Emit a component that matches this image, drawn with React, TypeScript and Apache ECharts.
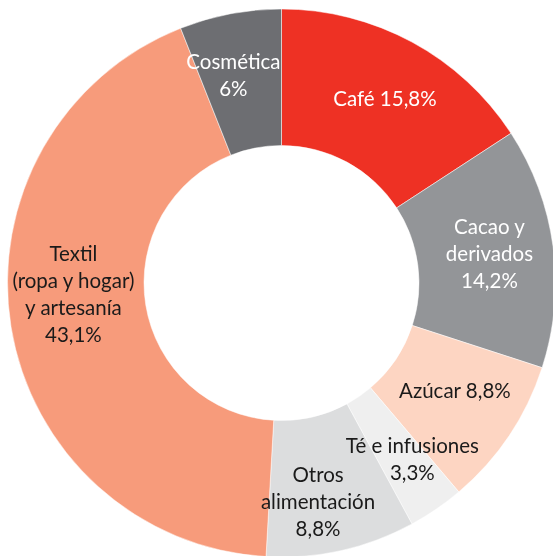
import React, { useEffect, useRef } from "react";
import * as echarts from "echarts";

const categories = [
  "Café",
  "Cacao y\nderivados",
  "Azúcar",
  "Té e infusiones",
  "Otros\nalimentación",
  "Textil\n(ropa y hogar)\ny artesanía",
  "Cosmética",
];
const values = [15.8, 14.2, 8.8, 3.3, 8.8, 43.1, 6];
const joiners = [" ", "\n", " ", "\n", "\n", "\n", "\n"];
const colors = ["#EE3124", "#939598", "#FDD5C2", "#EFEFEF", "#DCDDDE", "#F79B7B", "#6D6E72"];
const textColors = ["#FFFFFF", "#FFFFFF", "#1A1A1A", "#1A1A1A", "#1A1A1A", "#1A1A1A", "#FFFFFF"];
const labelShift = [
  [4, -1],
  [1, -3],
  [0, -9],
  [13, 3],
  [-9, 14],
  [-2, -23],
  [-9, -3],
];

const fmt = (v: number) => String(v).replace(".", ",") + "%";

export default function App() {
  const ref = useRef<HTMLDivElement>(null);
  useEffect(() => {
    if (!ref.current) return;
    const chart = echarts.init(ref.current, null, { renderer: "svg" });
    chart.setOption({
      animation: false,
      series: [
        {
          type: "pie",
          center: [281.5, 283],
          radius: [137.5, 274],
          startAngle: 90,
          clockwise: true,
          avoidLabelOverlap: false,
          emphasis: { disabled: true },
          itemStyle: { borderColor: "#FFFFFF", borderWidth: 0.5 },
          label: {
            show: true,
            position: "inside",
            fontFamily: "Lato",
            fontSize: 20.5,
            lineHeight: 27,
            align: "center",
          },
          labelLine: { show: false },
          labelLayout: (params: any) => ({
            dx: labelShift[params.dataIndex][0],
            dy: labelShift[params.dataIndex][1],
          }),
          data: categories.map((name, i) => ({
            name,
            value: values[i],
            itemStyle: { color: colors[i] },
            label: {
              color: textColors[i],
              formatter: name + joiners[i] + fmt(values[i]),
            },
          })),
        },
      ],
    });
    return () => chart.dispose();
  }, []);
  return (
    <div
      ref={ref}
      style={{ position: "fixed", left: 0, top: 0, width: 553, height: 556 }}
    />
  );
}
